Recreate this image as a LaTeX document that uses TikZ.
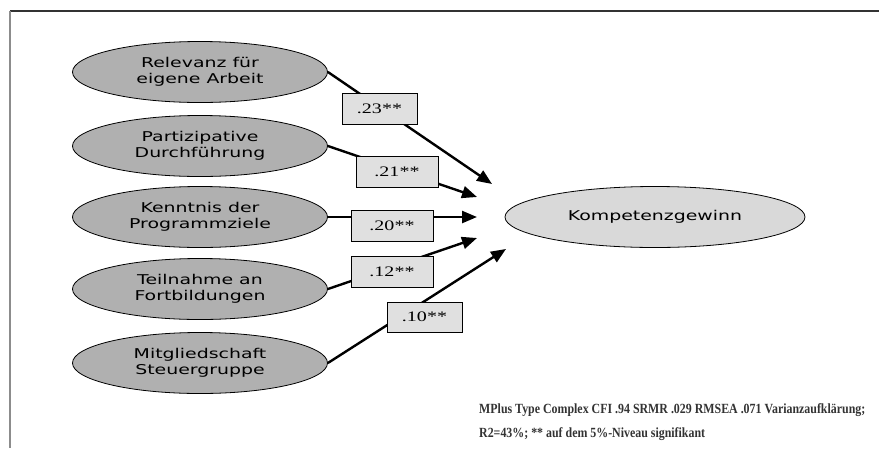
\documentclass[tikz,border=0pt]{standalone}
\usepackage{fontspec}
\setmainfont{Liberation Serif}
\newfontfamily\ellfont[FakeStretch=1.4]{DejaVu Sans}
\newfontfamily\boxfont[FakeStretch=1.38]{Liberation Serif}
\newfontfamily\notefont[FakeStretch=0.85]{Liberation Serif}
\usetikzlibrary{shapes.geometric,arrows.meta}
\definecolor{ellgray}{HTML}{B0B0B0}
\definecolor{outgray}{HTML}{D9D9D9}
\definecolor{boxgray}{HTML}{E0E0E0}
\definecolor{framedark}{HTML}{333333}
\definecolor{framelight}{HTML}{8C8C8C}
\tikzset{
  latent/.style={ellipse, draw=black, line width=0.8pt, fill=ellgray,
    minimum width=255pt, minimum height=61pt, inner sep=0pt,
    font=\ellfont\fontsize{13.5}{16.5}\selectfont, align=center, text=black},
  outcome/.style={latent, fill=outgray, minimum width=300pt},
  coef/.style={rectangle, draw=black, line width=0.9pt, fill=boxgray,
    minimum height=31pt, inner sep=0pt,
    font=\boxfont\fontsize{14.5}{15}\selectfont},
  effect/.style={line width=2.4pt, -{Triangle[length=15pt,width=12pt]}},
  note/.style={anchor=base west, inner sep=0pt,
    font=\notefont\bfseries\fontsize{14}{16}\selectfont, text=black!80},
}
\begin{document}
\begin{tikzpicture}[x=1pt,y=-1pt]
\useasboundingbox (0,0) rectangle (879,448);
% frame
\draw[framedark, line width=1.2pt] (10,11) -- (879,11);
\draw[framelight, line width=1.6pt] (10,11) -- (10,448);

% latent variables
\node[latent] (e1) at (200,72)  {Relevanz für\\eigene Arbeit};
\node[latent] (e2) at (200,146) {Partizipative\\Durchführung};
\node[latent] (e3) at (200,217) {Kenntnis der\\Programmziele};
\node[latent] (e4) at (200,289) {Teilnahme an\\Fortbildungen};
\node[latent] (e5) at (200,363) {Mitgliedschaft\\Steuergruppe};
\node[outcome] (k) at (655,217) {Kompetenzgewinn};

% arrow tips
\coordinate (t1) at (492,184);
\coordinate (t2) at (477,197);
\coordinate (t3) at (477,217);
\coordinate (t4) at (477,238);
\coordinate (t5) at (506,249);

\draw[effect] (e1.east) -- (t1);
\draw[effect] (e2.east) -- (t2);
\draw[effect] (e3.east) -- (t3);
\draw[effect] (e4.east) -- (t4);
\draw[effect] (e5.east) -- (t5);

% coefficient boxes
\node[coef, minimum width=75pt] (b1) at (379.5,108.5) {.23**};
\node[coef, minimum width=82pt] (b2) at (397,171.5) {.21**};
\node[coef, minimum width=82pt] (b3) at (392,226) {.20**};
\node[coef, minimum width=82pt] (b4) at (392,271.5) {.12**};
\node[coef, minimum width=75pt, minimum height=30pt] (b5) at (424.5,317) {.10**};

% note
\node[note] (n1) at (479,413) {MPlus Type Complex CFI .94 SRMR .029 RMSEA .071 Varianzaufklärung;};
\node[note] (n2) at (479,437) {R2=43\%; ** auf dem 5\%-Niveau signifikant};
\end{tikzpicture}
\end{document}
